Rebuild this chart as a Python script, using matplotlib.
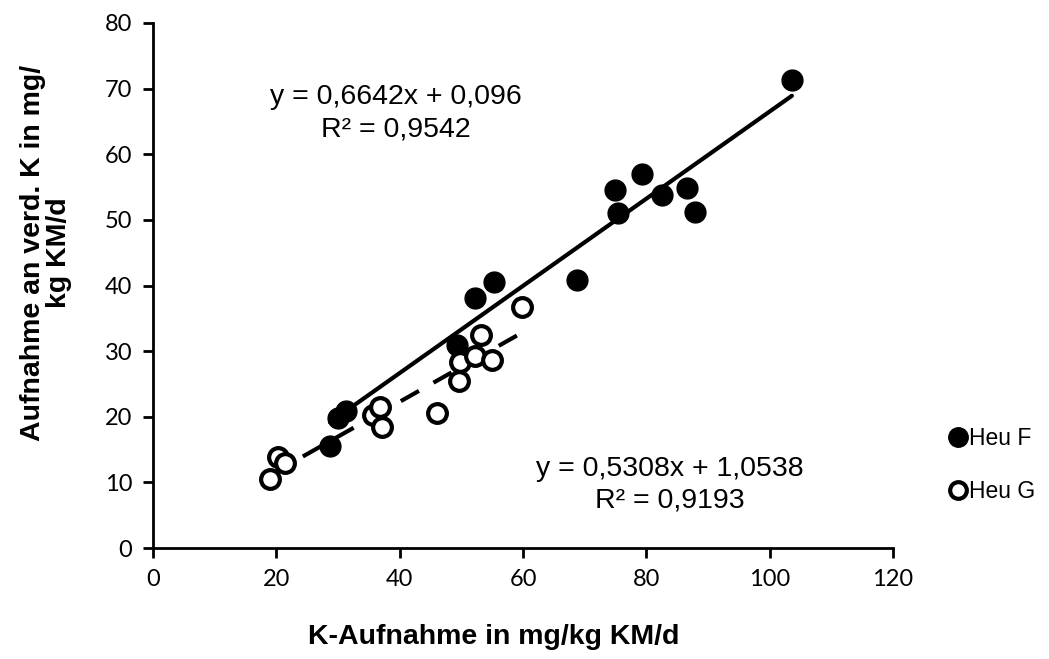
import numpy as np
import matplotlib
matplotlib.use("Agg")
import matplotlib.pyplot as plt
from matplotlib.lines import Line2D

# Heu F (filled)
heu_f_x = [28.7, 30.0, 31.3, 49.3, 52.2, 55.3, 68.8, 74.9, 75.4, 79.3, 82.5, 86.6, 87.9, 103.6]
heu_f_y = [15.5, 19.8, 20.9, 30.9, 38.1, 40.5, 40.8, 54.6, 51.0, 57.0, 53.8, 54.9, 51.2, 71.3]

# Heu G (open)
heu_g_x = [19.0, 20.3, 21.4, 35.7, 36.8, 37.1, 46.0, 49.6, 49.8, 52.2, 53.2, 55.0, 59.8]
heu_g_y = [10.5, 13.9, 12.9, 20.3, 21.5, 18.4, 20.5, 25.5, 28.4, 29.2, 32.5, 28.6, 36.8]

# trendline coefficients as printed on the chart
fit_f = (0.6642, 0.096)
fit_g = (0.5308, 1.0538)
eq_f = ["y = 0,6642x + 0,096", "R² = 0,9542"]
eq_g = ["y = 0,5308x + 1,0538", "R² = 0,9193"]

tick_font = "Lato"
txt_font = "Liberation Sans"

fig = plt.figure(figsize=(10.49, 6.59), dpi=100)
ax = fig.add_axes([0.1459, 0.1684, 0.8513 - 0.1459, 0.9651 - 0.1684])

# trendlines
xf = np.array([min(heu_f_x), max(heu_f_x)])
ax.plot(xf, fit_f[0] * xf + fit_f[1], color="black", lw=3, solid_capstyle="round", zorder=2)
xg = np.array([min(heu_g_x), max(heu_g_x)])
ax.plot(xg, fit_g[0] * xg + fit_g[1], color="black", lw=3, dashes=(5, 4), zorder=2)

ax.plot(heu_f_x, heu_f_y, "o", ms=15, color="black", mec="black", zorder=3)
ax.plot(heu_g_x, heu_g_y, "o", ms=13.5, mfc="white", mec="black", mew=3, zorder=3)

ax.set_xlim(0, 120)
ax.set_ylim(0, 80)
ax.set_xticks(range(0, 121, 20))
ax.set_yticks(range(0, 81, 10))
for s in ["top", "right"]:
    ax.spines[s].set_visible(False)
for s in ["left", "bottom"]:
    ax.spines[s].set_linewidth(2)
ax.tick_params(direction="out", length=7, width=2, pad=8)
for lab in ax.get_xticklabels() + ax.get_yticklabels():
    lab.set_fontfamily(tick_font)
    lab.set_fontsize(17)

ax.set_xlabel("K-Aufnahme in mg/kg KM/d", fontfamily=txt_font, fontweight="bold",
              fontsize=20.5)
ax.xaxis.set_label_coords(0.461, -0.145)
ax.set_ylabel("Aufnahme an verd. K in mg/\nkg KM/d", fontfamily=txt_font, fontweight="bold",
              fontsize=20.5, linespacing=1.0)
ax.yaxis.set_label_coords(-0.109, 0.562)

ax.text(39.3, 68.7, eq_f[0], ha="center", va="center", fontsize=20.5, fontfamily=txt_font)
ax.text(39.3, 63.8, eq_f[1], ha="center", va="center", fontsize=20.5, fontfamily=txt_font)
ax.text(83.8, 12.0, eq_g[0], ha="center", va="center", fontsize=20.5, fontfamily=txt_font)
ax.text(83.8, 7.3, eq_g[1], ha="center", va="center", fontsize=20.5, fontfamily=txt_font)

handles = [
    Line2D([], [], ls="none", marker="o", ms=14, color="black"),
    Line2D([], [], ls="none", marker="o", ms=12, mfc="white", mec="black", mew=3),
]
fig.legend(handles, ["Heu F", "Heu G"], loc="center left", bbox_to_anchor=(0.887, 0.294),
           frameon=False, handlelength=0.6, handletextpad=0.2, labelspacing=1.3,
           prop={"family": txt_font, "size": 16.5})

fig.savefig("out.png", dpi=100)
